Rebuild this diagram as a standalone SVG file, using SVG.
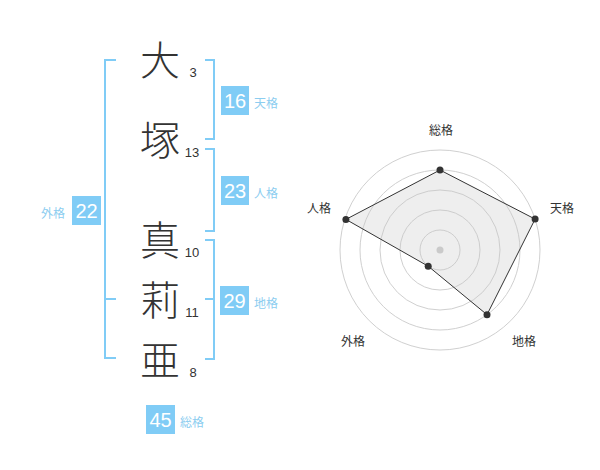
<svg xmlns="http://www.w3.org/2000/svg" width="600" height="470" viewBox="0 0 600 470">
<style>
.k{font-family:"Noto Sans CJK JP","Noto Sans",sans-serif;font-size:40px;font-weight:300;fill:#333;text-anchor:middle}
.n{font-family:"Liberation Sans","Noto Sans",sans-serif;font-size:13px;fill:#333;text-anchor:middle}
.bx{fill:#80ccf6}
.bn{font-family:"Liberation Sans","Noto Sans",sans-serif;font-size:20px;fill:#fff;text-anchor:middle}
.bl{font-family:"Noto Sans CJK JP",sans-serif;font-size:12px;fill:#8ccdf0}
.br{fill:none;stroke:#80ccf6;stroke-width:2}
.ring{fill:none;stroke:#d0d0d0;stroke-width:1}
.rl{font-family:"Noto Sans CJK JP",sans-serif;font-size:12px;fill:#333;text-anchor:middle}
.dot{fill:#333}
</style>
<rect width="600" height="470" fill="#fff"/>
<g id="connectors">
<path class="br" d="M116,60 H105 V358 H116 M105,299 H116"/>
<path class="br" d="M205,60 H214 V139 H205"/>
<path class="br" d="M205,149 H214 V231 H205"/>
<path class="br" d="M205,240 H214 V359 H205 M205,299 H214"/>
</g>
<g id="char1"><text class="k" x="160" y="75">大</text><text class="n" x="193" y="77">3</text></g>
<g id="char2"><text class="k" x="160" y="155">塚</text><text class="n" x="192" y="157">13</text></g>
<g id="char3"><text class="k" x="160" y="255">真</text><text class="n" x="192" y="257">10</text></g>
<g id="char4"><text class="k" x="160" y="315">莉</text><text class="n" x="192" y="317">11</text></g>
<g id="char5"><text class="k" x="160" y="375">亜</text><text class="n" x="193" y="377">8</text></g>
<g id="tenkaku"><rect class="bx" x="221" y="86" width="28" height="29"/><text class="bn" x="235" y="107.5">16</text><text class="bl" x="254" y="108">天格</text></g>
<g id="jinkaku"><rect class="bx" x="221" y="176" width="28" height="29"/><text class="bn" x="235" y="197.5">23</text><text class="bl" x="254" y="198">人格</text></g>
<g id="chikaku"><rect class="bx" x="220" y="286" width="29" height="29"/><text class="bn" x="234.5" y="307.5">29</text><text class="bl" x="254" y="308">地格</text></g>
<g id="gaikaku"><rect class="bx" x="72" y="196" width="29" height="29"/><text class="bn" x="86.5" y="217.5">22</text><text class="bl" x="41" y="218">外格</text></g>
<g id="soukaku"><rect class="bx" x="146" y="405" width="29" height="29"/><text class="bn" x="160.5" y="426.5">45</text><text class="bl" x="180" y="427">総格</text></g>
<g id="radar">
<circle class="ring" cx="440" cy="250" r="20"/>
<circle class="ring" cx="440" cy="250" r="40"/>
<circle class="ring" cx="440" cy="250" r="60"/>
<circle class="ring" cx="440" cy="250" r="80"/>
<circle class="ring" cx="440" cy="250" r="100"/>
<circle cx="440" cy="250" r="3.5" fill="#ccc"/>
<polygon points="440,170 535.1,219.1 487,314.7 428.2,266.2 345.9,219.4" fill="rgba(200,200,200,0.3)" stroke="#333" stroke-width="1"/>
<circle class="dot" cx="440" cy="170" r="3.5"/>
<circle class="dot" cx="535.1" cy="219.1" r="3.5"/>
<circle class="dot" cx="487" cy="314.7" r="3.5"/>
<circle class="dot" cx="428.2" cy="266.2" r="3.5"/>
<circle class="dot" cx="345.9" cy="219.4" r="3.5"/>
<text class="rl" x="441" y="135">総格</text>
<text class="rl" x="562" y="213">天格</text>
<text class="rl" x="524" y="346">地格</text>
<text class="rl" x="353" y="346">外格</text>
<text class="rl" x="319" y="213">人格</text>
</g>
</svg>
